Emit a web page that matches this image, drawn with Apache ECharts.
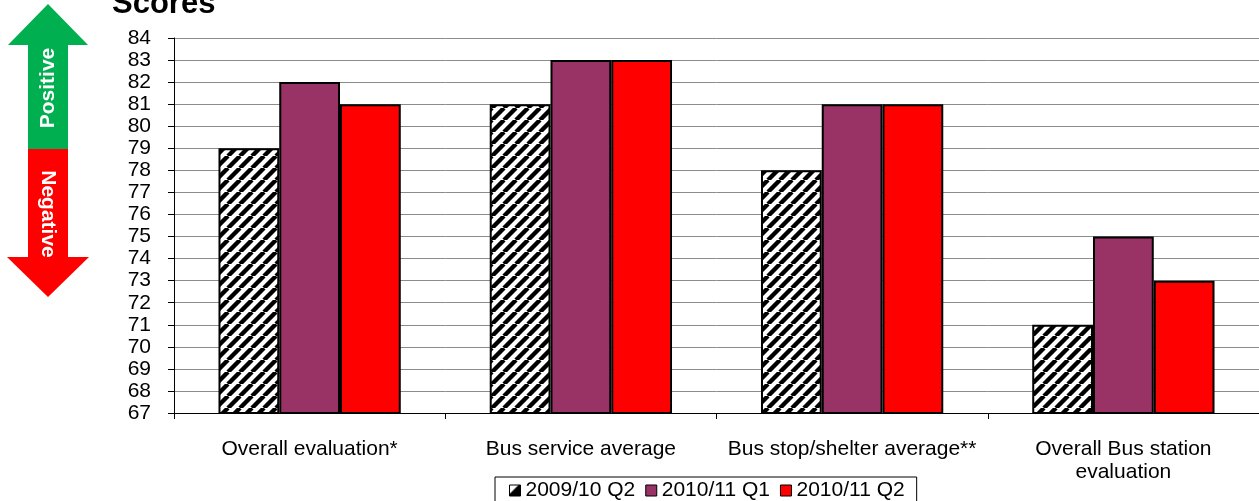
<!DOCTYPE html>
<html>
<head>
<meta charset="utf-8">
<script src="https://cdn.jsdelivr.net/npm/echarts@6/dist/echarts.min.js"></script>
<style>
  html, body { margin: 0; padding: 0; background: #fff; }
  #chart { width: 1259px; height: 501px; }
</style>
</head>
<body>
<div id="chart"></div>
<script>
// Survey scores by measure and period
const categories = ['Overall evaluation*', 'Bus service average', 'Bus stop/shelter average**', 'Overall Bus station\nevaluation'];
const seriesNames = ['2009/10 Q2', '2010/11 Q1', '2010/11 Q2'];
const scores0910Q2 = [79, 81, 78, 71];
const scores1011Q1 = [82, 83, 81, 75];
const scores1011Q2 = [81, 83, 81, 73];
const yMin = 67, yMax = 84, yStep = 1;

const FONT = 'Liberation Sans, Arial, sans-serif';

// Diagonal black/white hatch used for the earliest period
function makeHatch(size, lw) {
  const c = document.createElement('canvas');
  c.width = size; c.height = size;
  const g = c.getContext('2d');
  g.fillStyle = '#fff';
  g.fillRect(0, 0, size, size);
  g.strokeStyle = '#000';
  g.lineWidth = lw;
  g.beginPath();
  for (let k = -1; k <= 1; k++) {
    g.moveTo(k * size, size);
    g.lineTo(k * size + size, 0);
  }
  g.stroke();
  return c;
}

// Small legend swatch for the hatched series
function makeHatchIcon() {
  const c = document.createElement('canvas');
  c.width = 12; c.height = 12;
  const g = c.getContext('2d');
  g.fillStyle = '#000';
  g.fillRect(0, 0, 12, 12);
  g.fillStyle = '#fff';
  g.beginPath();
  g.moveTo(0, 0); g.lineTo(9, 0); g.lineTo(0, 9); g.closePath();
  g.fill();
  return c;
}

const hatchFill = { image: makeHatch(12, 4.4), repeat: 'repeat' };
const hatchIcon = { image: makeHatchIcon(), repeat: 'no-repeat' };
const colors = [hatchFill, '#993366', '#FF0000'];
const values = [scores0910Q2, scores1011Q1, scores1011Q2];

const chart = echarts.init(document.getElementById('chart'), null, { renderer: 'canvas' });

chart.setOption({
  animation: false,
  backgroundColor: '#fff',
  textStyle: { fontFamily: FONT },
  grid: { left: 174, width: 1089, top: 38, bottom: 88, containLabel: false },
  legend: {
    left: 495,
    top: 477,
    padding: [3, 12, 10, 14],
    borderColor: '#000',
    borderWidth: 1,
    itemWidth: 11,
    itemHeight: 11,
    itemGap: 10,
    icon: 'rect',
    textStyle: { fontSize: 21, color: '#000', fontFamily: FONT },
    data: [
      { name: seriesNames[0], itemStyle: { color: hatchIcon, borderColor: '#000', borderWidth: 1 } },
      { name: seriesNames[1], itemStyle: { color: colors[1], borderColor: '#000', borderWidth: 1 } },
      { name: seriesNames[2], itemStyle: { color: colors[2], borderColor: '#000', borderWidth: 1 } }
    ]
  },
  xAxis: {
    type: 'category',
    data: categories,
    boundaryGap: true,
    axisLine: { show: true, lineStyle: { color: '#000', width: 1 } },
    axisTick: { show: true, length: 6, alignWithLabel: false, lineStyle: { color: '#000' } },
    axisLabel: { color: '#000', fontSize: 21, margin: 25, lineHeight: 23, interval: 0, fontFamily: FONT },
    splitLine: { show: false }
  },
  yAxis: {
    type: 'value',
    min: yMin,
    max: yMax,
    interval: yStep,
    axisLine: { show: true, lineStyle: { color: '#000', width: 1 } },
    axisTick: { show: true, length: 6, lineStyle: { color: '#000' } },
    axisLabel: { color: '#000', fontSize: 21, margin: 23, fontFamily: FONT },
    splitLine: { show: true, lineStyle: { color: '#8c8c8c', width: 1 } }
  },
  series: seriesNames.map((name, i) => ({
    name: name,
    type: 'bar',
    data: values[i],
    barGap: '0%',
    barCategoryGap: '32.8%',
    itemStyle: { color: colors[i], borderColor: '#000', borderWidth: 2 }
  })),
  graphic: [
    {
      type: 'text',
      left: 112, top: -11,
      style: { text: 'Scores', font: 'bold 31px ' + FONT, fill: '#000' }
    },
    {
      type: 'polygon',
      shape: { points: [[48, 4], [88, 45], [68, 45], [68, 149], [28, 149], [28, 45], [8, 45]] },
      style: { fill: '#00B050' }
    },
    {
      type: 'polygon',
      shape: { points: [[28, 149], [68, 149], [68, 257], [89, 257], [48, 297], [7, 257], [28, 257]] },
      style: { fill: '#FF0000' }
    },
    {
      type: 'text',
      x: 48, y: 88,
      rotation: Math.PI / 2,
      style: { text: 'Positive', font: 'bold 21px ' + FONT, fill: '#fff', align: 'center', verticalAlign: 'middle' }
    },
    {
      type: 'text',
      x: 48, y: 214,
      rotation: -Math.PI / 2,
      style: { text: 'Negative', font: 'bold 21px ' + FONT, fill: '#fff', align: 'center', verticalAlign: 'middle' }
    }
  ]
});
</script>
</body>
</html>
